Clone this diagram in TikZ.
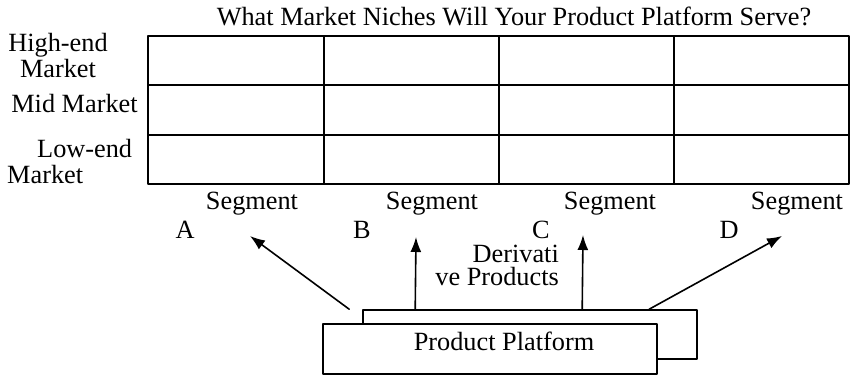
\documentclass[tikz,border=0pt]{standalone}
\usepackage{fontspec}
\setmainfont{Liberation Serif}
\usetikzlibrary{arrows.meta,calc,positioning}
\tikzset{
  lbl/.style={inner sep=0pt,font=\fontsize{26.3}{26}\selectfont},
  gridline/.style={line width=1.8pt},
  pbox/.style={draw,fill=white,line width=1.6pt,minimum width=334pt,minimum height=49pt,inner sep=0pt},
  arr/.style={line width=1.6pt,-{Latex[length=15pt,width=11pt]}}
}
\begin{document}
\begin{tikzpicture}[x=1pt,y=-1pt,line join=round,line cap=round]
\useasboundingbox (0,0) rectangle (852,376);
% market niches grid
\draw[gridline] (148,36) rectangle (849,184);
\foreach \x in {324,499,674}{\draw[gridline](\x,36)--(\x,184);}
\foreach \y in {85,135}{\draw[gridline](148,\y)--(849,\y);}
\node[lbl,anchor=base] (title) at (514,25) {What Market Niches Will Your Product Platform Serve?};
\node[lbl,align=center,anchor=base] (high) at (58,77) {High-end\\Market};
\node[lbl,anchor=base] (mid) at (74.5,112) {Mid Market};
\node[lbl,align=left,anchor=base west] (low) at (7,183) {\hspace*{30pt}Low-end\\Market};
% segments
\foreach \n/\sx/\lx in {A/252/185,B/432/362,C/610/541,D/797/729}{
  \node[lbl,anchor=base] (seg\n) at (\sx,209) {Segment};
  \node[lbl,anchor=base] (let\n) at (\lx,238) {\n};}
\node[lbl,align=right,anchor=base east,font=\fontsize{26.3}{23}\selectfont] (deriv) at (559,285) {Derivati\\ve Products};
% platform
\node[pbox] (back) at (530,334.5) {};
\node[pbox,minimum height=50pt] (plat) at (490,349) {};
\node[lbl,anchor=base] (platname) at (504,350) {Product Platform};
\coordinate (tA) at (250,236);
\coordinate (tB) at (416,237);
\coordinate (tC) at (583,235);
\coordinate (tD) at (782,236);
\foreach \n/\dx in {A/-13,B/53,C/220,D/287}{\draw[arr] ($(back.north west)+(\dx,0)$)--(t\n);}
\end{tikzpicture}
\end{document}
